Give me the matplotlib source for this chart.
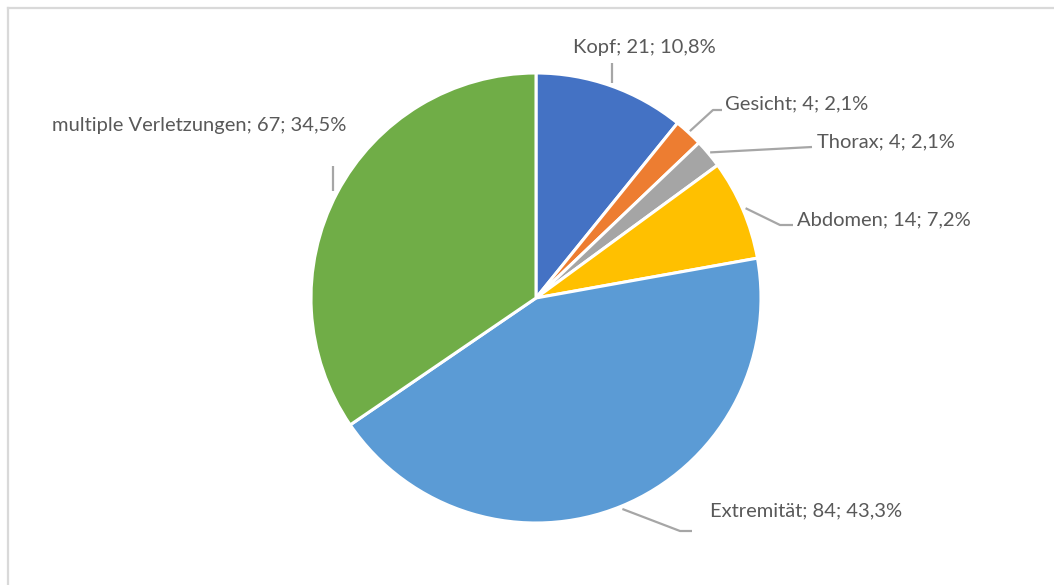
import matplotlib
matplotlib.use("Agg")
import matplotlib.pyplot as plt
import numpy as np

# Injury locations and counts
categories = ["Kopf", "Gesicht", "Thorax", "Abdomen", "Extremität", "multiple Verletzungen"]
counts = [21, 4, 4, 14, 84, 67]
colors = ["#4472C4", "#ED7D31", "#A5A5A5", "#FFC000", "#5B9BD5", "#70AD47"]

W, H = 1054, 585
fig = plt.figure(figsize=(W / 100, H / 100), dpi=100)
ax = fig.add_axes([0, 0, 1, 1])


def P(x, y):
    """Pixel position (origin top-left) to axes data coordinates."""
    return x, H - y


cx, cy = P(536, 298)
R = 225
wedges, _ = ax.pie(counts, colors=colors, startangle=90, counterclock=False,
                   center=(cx, cy), radius=R, frame=True,
                   wedgeprops=dict(edgecolor="white", linewidth=2.2))
ax.set_xlim(0, W)
ax.set_ylim(0, H)
ax.set_aspect("equal")
ax.axis("off")

total = sum(counts)
labels = [f"{c}; {v}; {100 * v / total:.1f}%".replace(".", ",")
          for c, v in zip(categories, counts)]

# label anchor (left edge, vertical centre) and leader elbow points in pixels;
# an x of None keeps the leader vertical above its start point
label_pos = [(573, 48), (725, 104), (817, 142), (797, 220), (710, 511), (52, 126)]
leader_pts = [
    [(None, 63)],
    [(713, 110), (722, 110)],
    [(812, 147)],
    [(780, 225), (793, 225)],
    [(680, 531), (692, 531)],
    [(None, 166)],
]
leader_r = [R + 3, R + 2, R + 2, R + 3, R + 3, R + 4]

text_color = "#595959"
line_color = "#A6A6A6"
for w, lab, (lx, ly), pts, rr in zip(wedges, labels, label_pos, leader_pts, leader_r):
    mid = np.deg2rad((w.theta1 + w.theta2) / 2)
    sx, sy = cx + rr * np.cos(mid), cy + rr * np.sin(mid)
    xs, ys = [sx], [sy]
    for px, py in pts:
        xs.append(sx if px is None else px)
        ys.append(P(0, py)[1])
    ax.plot(xs, ys, color=line_color, lw=1.6, solid_capstyle="butt")
    tx, ty = P(lx, ly)
    ax.text(tx, ty, lab, ha="left", va="center", fontsize=14.5,
            family="Lato", color=text_color)

# chart frame (top and left edges)
ax.plot([8, W], [P(0, 8)[1]] * 2, color="#D9D9D9", lw=1.6)
ax.plot([8, 8], [P(0, 8)[1], 0], color="#D9D9D9", lw=1.6)

fig.savefig("out.png", dpi=100)
